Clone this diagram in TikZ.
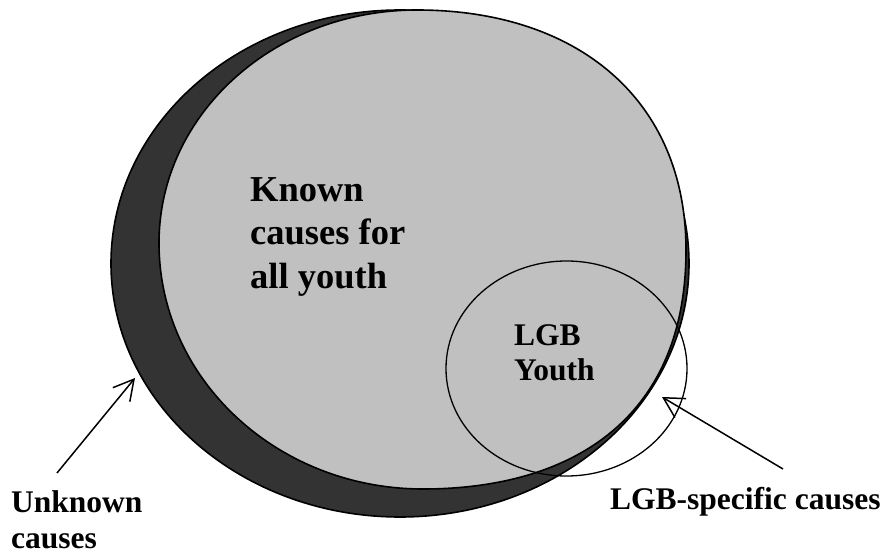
\documentclass[tikz,border=0pt]{standalone}
\usepackage{fontspec}
\setmainfont{Liberation Serif}
\usetikzlibrary{arrows.meta,shapes.geometric}
\definecolor{darkband}{RGB}{51,51,51}
\definecolor{knowngray}{RGB}{192,192,192}
\begin{document}
\begin{tikzpicture}[x=1pt,y=-1pt,
  outline/.style={draw=black,line width=1.6pt},
  bigtext/.style={anchor=base west,inner sep=0pt,font=\bfseries\fontsize{36.5}{43.2}\selectfont},
  midtext/.style={anchor=base west,inner sep=0pt,font=\bfseries\fontsize{31.5}{35.5}\selectfont},
  pointer/.style={line width=1.5pt,-{Straight Barb[length=20pt,width=22pt,line width=1.5pt]}}]
\useasboundingbox (0,0) rectangle (889,553);
% unknown causes (dark ellipse)
\node[ellipse,outline,fill=darkband,inner sep=0pt,minimum width=578pt,minimum height=507pt] (unknown) at (400,263.5) {};
% known causes (gray shape)
\path[outline,fill=knowngray] (417,10) .. controls (578,10) and (686,100) .. (686,250)
  .. controls (686,422) and (568,489) .. (423,489)
  .. controls (277,489) and (159,379) .. (159,243)
  .. controls (159,114) and (274.5,10) .. (417,10) -- cycle;
% LGB youth circle
\node[ellipse,draw=black,line width=1.3pt,inner sep=0pt,minimum width=241pt,minimum height=215pt] (lgb) at (566.5,368.5) {};
% texts
\node[bigtext] (known) at (250,201.7) {\begin{tabular}[t]{@{}l@{}}Known\\causes for\\all youth\end{tabular}};
\node[midtext] (lgbtext) at (514,345) {\begin{tabular}[t]{@{}l@{}}LGB\\Youth\end{tabular}};
\node[midtext] (unklabel) at (11,512.5) {\begin{tabular}[t]{@{}l@{}}Unknown\\causes\end{tabular}};
\node[midtext] (speclabel) at (610,509) {LGB-specific causes};
% arrows
\coordinate (unkstart) at (57,473);
\coordinate (unktip) at (135,378);
\coordinate (specstart) at (783,469);
\coordinate (spectip) at (662,397);
\draw[pointer] (unkstart) -- (unktip);
\draw[pointer] (specstart) -- (spectip);
\end{tikzpicture}
\end{document}
